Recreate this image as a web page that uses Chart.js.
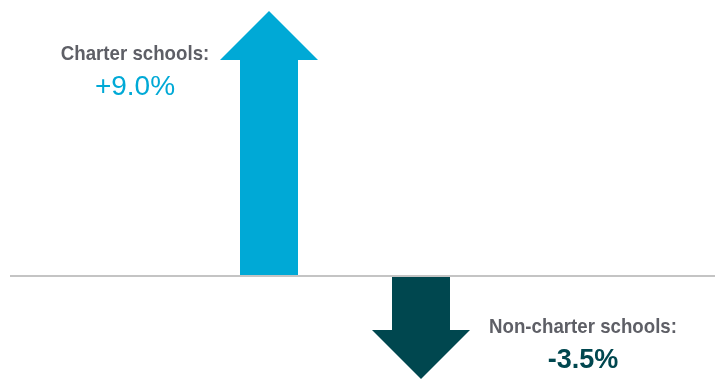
<!DOCTYPE html>
<html>
<head>
<meta charset="utf-8">
<script src="https://cdn.jsdelivr.net/npm/chart.js@4"></script>
<style>
  html, body { margin: 0; padding: 0; background: #ffffff; }
  #wrap { width: 715px; height: 380px; position: relative; }
</style>
</head>
<body>
<div id="wrap"><canvas id="schoolsChange"></canvas></div>
<script>
const categories = ['Charter schools:', 'Non-charter schools:'];
const changeValues = [9.0, -3.5];
const valueLabels = ['+9.0%', '-3.5%'];
const arrowColors = ['#00a9d6', '#00474f'];

// draws each bar as an arrow, plus the baseline and the labels
const arrowPlugin = {
    id: 'arrows',
    beforeDatasetDraw(chart) {
        const ctx = chart.ctx;
        const zeroY = chart.scales.y.getPixelForValue(0);

        ctx.save();
        ctx.strokeStyle = '#c4c4c4';
        ctx.lineWidth = 2;
        ctx.beginPath();
        ctx.moveTo(10, zeroY);
        ctx.lineTo(chart.width, zeroY);
        ctx.stroke();

        const meta = chart.getDatasetMeta(0);
        meta.data.forEach(function (bar, i) {
            const dir = changeValues[i] >= 0 ? 1 : -1;
            const half = bar.width / 2;
            const headHalf = 49;
            const headLen = 49;
            const tipY = bar.y;
            const neckY = tipY + dir * headLen;
            const baseY = bar.base + (dir > 0 ? -1 : 1);

            ctx.fillStyle = arrowColors[i];
            ctx.beginPath();
            ctx.moveTo(bar.x - half, baseY);
            ctx.lineTo(bar.x - half, neckY);
            ctx.lineTo(bar.x - headHalf, neckY);
            ctx.lineTo(bar.x, tipY);
            ctx.lineTo(bar.x + headHalf, neckY);
            ctx.lineTo(bar.x + half, neckY);
            ctx.lineTo(bar.x + half, baseY);
            ctx.closePath();
            ctx.fill();

            ctx.textAlign = 'center';
            ctx.textBaseline = 'alphabetic';
            let lx, ly;
            if (dir > 0) {
                lx = bar.x - 134;
                ly = tipY + 49;
            } else {
                lx = bar.x + 162;
                ly = bar.base + 57;
            }
            // squeeze the category label to look like a condensed face
            ctx.save();
            ctx.translate(lx, ly);
            ctx.scale(0.89, 1);
            ctx.fillStyle = '#5e5f66';
            ctx.font = 'bold 21px "Liberation Sans", Arial, sans-serif';
            ctx.fillText(categories[i], 0, 0);
            ctx.restore();

            ctx.fillStyle = arrowColors[i];
            ctx.font = (dir > 0 ? '28px' : 'bold 27px') + ' "Liberation Sans", sans-serif';
            ctx.fillText(valueLabels[i], lx, ly + 35);
        });
        ctx.restore();
        return false;
    }
};

new Chart(document.getElementById('schoolsChange'), {
    type: 'bar',
    data: {
        labels: categories,
        datasets: [{
            data: changeValues,
            backgroundColor: arrowColors,
            barThickness: 58
        }]
    },
    options: {
        responsive: true,
        maintainAspectRatio: false,
        animation: false,
        layout: {
            padding: { left: 193, right: 218, top: 11, bottom: 1 }
        },
        scales: {
            x: { display: false },
            y: { display: false, min: -3.5, max: 9.0 }
        },
        plugins: {
            legend: { display: false },
            tooltip: { enabled: false }
        }
    },
    plugins: [arrowPlugin]
});
</script>
</body>
</html>
